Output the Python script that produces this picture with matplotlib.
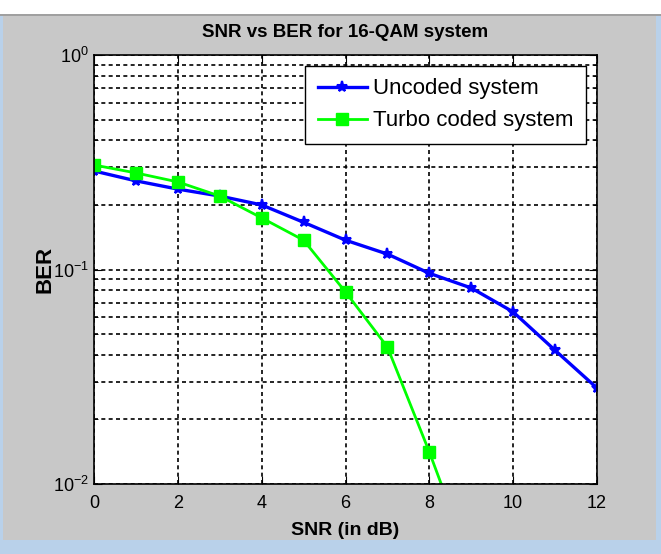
"""SNR vs BER for 16-QAM, uncoded vs turbo coded"""
import matplotlib
matplotlib.use("Agg")
from matplotlib import pyplot as plt
from matplotlib.patches import Rectangle
from matplotlib.ticker import LogLocator, NullFormatter

snr_uncoded = [0, 1, 2, 3, 4, 5, 6, 7, 8, 9, 10, 11, 12]
ber_uncoded = [0.288, 0.259, 0.237, 0.220, 0.200, 0.166, 0.137, 0.118,
               0.096, 0.082, 0.0634, 0.042, 0.028]

snr_turbo = [0, 1, 2, 3, 4, 5, 6, 7, 8, 9]
ber_turbo = [0.307, 0.282, 0.256, 0.220, 0.174, 0.137, 0.0786, 0.0435,
             0.0141, 0.0042]

plt.rcParams['font.family'] = ['Liberation Sans', 'DejaVu Sans']

fig = plt.figure(figsize=(6.61, 5.54), dpi=100, facecolor='#c8c8c8')

# window chrome: white toolbar strip on top, blue frame left, right and bottom
fig.patches.append(Rectangle((0, 0.975), 1, 0.025, transform=fig.transFigure,
                             facecolor='white', edgecolor='none'))
fig.patches.append(Rectangle((0, 0.972), 1, 0.003, transform=fig.transFigure,
                             facecolor='#a0a0a0', edgecolor='none'))
fig.patches.append(Rectangle((0.992, 0), 0.008, 0.972, transform=fig.transFigure,
                             facecolor='#b9d1ea', edgecolor='none'))
fig.patches.append(Rectangle((0, 0), 1, 0.025, transform=fig.transFigure,
                             facecolor='#b9d1ea', edgecolor='none'))
fig.patches.append(Rectangle((0, 0.025), 0.005, 0.947, transform=fig.transFigure,
                             facecolor='#b9d1ea', edgecolor='none'))

ax = fig.add_axes([94 / 661, 1 - 484 / 554, (597 - 94) / 661, (484 - 55) / 554])
ax.set_facecolor('white')

ax.plot(snr_uncoded, ber_uncoded, '-', color='#0000ff', linewidth=2.4,
        marker='*', markersize=8, markeredgewidth=1.5, label='Uncoded system')
ax.plot(snr_turbo, ber_turbo, '-', color='#00ff00', linewidth=2.0,
        marker='s', markersize=8, label='Turbo coded system')

ax.set_yscale('log')
ax.set_xlim(0, 12)
ax.set_ylim(1e-2, 1)
ax.set_xticks([0, 2, 4, 6, 8, 10, 12])
ax.yaxis.set_minor_locator(LogLocator(base=10, subs=range(2, 10)))
ax.yaxis.set_minor_formatter(NullFormatter())

dash = (0, (2.4, 2.0))
ax.grid(True, which='major', axis='both', color='black', linestyle=dash,
        linewidth=1.2)
ax.grid(True, which='minor', axis='y', color='black', linestyle=dash,
        linewidth=1.2)

ax.tick_params(which='both', direction='in', top=True, right=True,
               labelsize=13, color='black')
ax.tick_params(which='major', length=6)
ax.tick_params(axis='x', pad=8)
ax.tick_params(which='minor', length=3)
for s in ax.spines.values():
    s.set_linewidth(1.2)

ax.set_title('SNR vs BER for 16-QAM system', fontsize=13.5, fontweight='bold', pad=13)
ax.set_xlabel('SNR (in dB)', fontsize=14, fontweight='bold', labelpad=7)
ax.set_ylabel('BER', fontsize=16, fontweight='bold', labelpad=-2)

leg = ax.legend(loc='upper right', fontsize=16, fancybox=False, framealpha=1,
                edgecolor='black', borderpad=0.55, handlelength=2.2,
                handletextpad=0.3, labelspacing=0.5, borderaxespad=0.5)
leg.get_frame().set_linewidth(1.0)

fig.savefig('out.png', dpi=100, facecolor=fig.get_facecolor())
